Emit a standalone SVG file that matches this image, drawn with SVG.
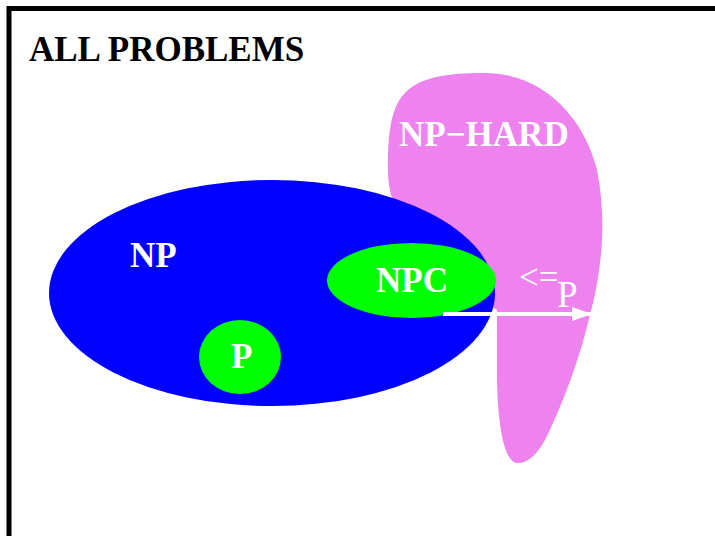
<svg xmlns="http://www.w3.org/2000/svg" width="715" height="536" viewBox="0 0 715 536">
  <defs>
    <style>
      .lbl { font-family: "Liberation Serif", "Times New Roman", serif; font-weight: bold; font-size: 35px; fill: #ffffff; }
      .thin { font-family: "Liberation Serif", "Times New Roman", serif; font-weight: normal; font-size: 35px; fill: #ffffff; }
      .title { font-family: "Liberation Serif", "Times New Roman", serif; font-weight: bold; font-size: 35px; fill: #000000; }
      .set-green { fill: #00ff00; }
    </style>
    <marker id="head" viewBox="0 0 20 14" refX="20" refY="7" markerUnits="userSpaceOnUse" markerWidth="20" markerHeight="14" orient="auto">
      <path d="M0,0 L20,7 L0,14 Z" fill="#ffffff"/>
    </marker>
  </defs>

  <rect width="715" height="536" fill="#ffffff"/>

  <!-- outer frame: universe of all problems -->
  <g id="all-problems">
    <path d="M9,540 L9,8.5 L720,8.5" fill="none" stroke="#000000" stroke-width="5"/>
    <text class="title" x="29" y="61">ALL PROBLEMS</text>
  </g>

  <!-- NP-hard region -->
  <g id="np-hard">
    <path d="M517,463 C505,462 498,430 497,380 L497,310 C450,280 388,235 388,170 C388,95 400,73 485,73 C545,73 585,120 597,170 C607,220 602,270 590,315 C578,365 560,410 545,440 C535,458 525,464 517,463 Z" fill="#ee82ee"/>
    <text class="lbl" x="399" y="146">NP−HARD</text>
  </g>

  <!-- NP region -->
  <g id="np">
    <ellipse cx="272" cy="293" rx="223" ry="113" fill="#0000ff"/>
    <text class="lbl" x="130" y="267">NP</text>
  </g>

  <!-- NP-complete region -->
  <g id="npc">
    <ellipse class="set-green" cx="411.5" cy="280.5" rx="84.5" ry="37.5"/>
    <text class="lbl" x="376" y="292">NPC</text>
  </g>

  <!-- P region -->
  <g id="p">
    <ellipse class="set-green" cx="240" cy="357" rx="41" ry="37"/>
    <text class="lbl" x="231" y="368">P</text>
  </g>

  <!-- polynomial reduction connector -->
  <g id="connectors">
    <line x1="443" y1="314" x2="592" y2="314" stroke="#ffffff" stroke-width="4" marker-end="url(#head)"/>
    <text class="thin" x="519" y="289">&lt;=</text>
    <text class="thin" x="557" y="307" style="font-size:37px">P</text>
  </g>
</svg>
